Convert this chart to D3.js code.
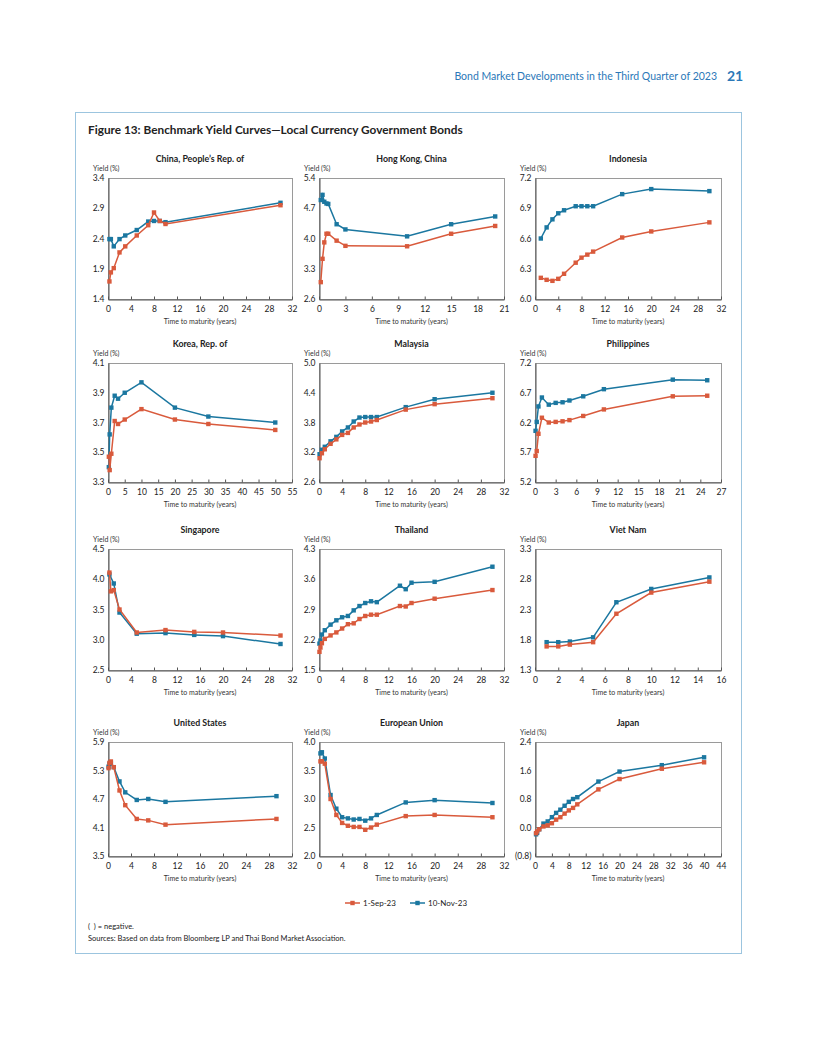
<!DOCTYPE html>
<html>
<head>
<meta charset="utf-8">
<script src="https://cdn.jsdelivr.net/npm/d3@7"></script>
<style>
body { margin: 0; background: #fff; }
svg { display: block; font-family: Lato, "Open Sans", sans-serif; }
</style>
</head>
<body>
<svg id="chart"></svg>
<script>
// yield curve data (tenor in years, yield in %)
let cnTenor = [0.25, 0.5, 1, 2, 3, 5, 7, 8, 9, 10, 30]
let cnSep = [1.69, 1.84, 1.91, 2.17, 2.27, 2.45, 2.62, 2.83, 2.69, 2.64, 2.95]
let cnNov = [2.39, 2.39, 2.27, 2.39, 2.45, 2.54, 2.68, 2.69, 2.69, 2.67, 2.99]

let hkTenor = [0.2, 0.4, 0.6, 0.85, 1.05, 2, 3, 10, 15, 20]
let hkSep = [2.99, 3.53, 3.91, 4.11, 4.11, 3.95, 3.83, 3.82, 4.11, 4.29]
let hkNov = [4.89, 5.01, 4.85, 4.81, 4.80, 4.33, 4.21, 4.05, 4.33, 4.51]

let idTenor = [1, 2, 3, 4, 5, 7, 8, 9, 10, 15, 20, 30]
let idSep = [6.21, 6.19, 6.18, 6.20, 6.25, 6.36, 6.41, 6.44, 6.47, 6.61, 6.67, 6.76]
let idNov = [6.60, 6.71, 6.79, 6.85, 6.88, 6.92, 6.92, 6.92, 6.92, 7.04, 7.09, 7.07]

let krTenor = [0.25, 0.5, 1, 2, 3, 5, 10, 20, 30, 50]
let krSep = [3.47, 3.38, 3.49, 3.71, 3.69, 3.72, 3.79, 3.72, 3.69, 3.65]
let krNov = [3.40, 3.62, 3.80, 3.88, 3.86, 3.90, 3.97, 3.80, 3.74, 3.70]

let myTenor = [0.1, 0.5, 1, 2, 3, 4, 5, 6, 7, 8, 9, 10, 15, 20, 30]
let mySep = [3.08, 3.18, 3.26, 3.37, 3.46, 3.55, 3.59, 3.70, 3.76, 3.80, 3.82, 3.85, 4.06, 4.17, 4.29]
let myNov = [3.16, 3.25, 3.31, 3.42, 3.51, 3.62, 3.70, 3.82, 3.90, 3.91, 3.91, 3.91, 4.11, 4.27, 4.40]

let phTenor = [0.08, 0.25, 0.5, 1, 2, 3, 4, 5, 7, 10, 20, 25]
let phSep = [5.64, 5.72, 6.01, 6.28, 6.20, 6.21, 6.22, 6.24, 6.31, 6.42, 6.64, 6.65]
let phNov = [6.06, 6.21, 6.47, 6.62, 6.50, 6.53, 6.54, 6.57, 6.64, 6.76, 6.92, 6.91]

let sgTenorSep = [0.25, 0.5, 1, 2, 5, 10, 15, 20, 30]
let sgSep = [4.11, 3.80, 3.82, 3.50, 3.12, 3.16, 3.13, 3.12, 3.07]
let sgTenorNov = [0.25, 1, 2, 5, 10, 15, 20, 30]
let sgNov = [4.08, 3.93, 3.45, 3.10, 3.11, 3.08, 3.06, 2.93]

let thTenor = [0.08, 0.25, 0.5, 1, 2, 3, 4, 5, 6, 7, 8, 9, 10, 14, 15, 16, 20, 30]
let thSep = [1.92, 2.02, 2.12, 2.22, 2.30, 2.37, 2.46, 2.56, 2.58, 2.68, 2.75, 2.78, 2.78, 2.98, 2.97, 3.05, 3.15, 3.35]
let thNov = [2.11, 2.18, 2.32, 2.42, 2.55, 2.65, 2.72, 2.75, 2.88, 2.98, 3.05, 3.09, 3.07, 3.45, 3.37, 3.52, 3.54, 3.89]

let vnTenor = [1, 2, 3, 5, 7, 10, 15]
let vnSep = [1.69, 1.69, 1.72, 1.76, 2.23, 2.58, 2.76]
let vnNov = [1.76, 1.76, 1.77, 1.84, 2.42, 2.64, 2.83]

let usTenor = [0.1, 0.25, 0.5, 1, 2, 3, 5, 7, 10, 29.3]
let usSep = [5.35, 5.46, 5.49, 5.37, 4.88, 4.57, 4.28, 4.25, 4.16, 4.28]
let usNov = [5.38, 5.44, 5.46, 5.37, 5.07, 4.84, 4.68, 4.70, 4.64, 4.76]

let euTenor = [0.25, 0.5, 1, 2, 3, 4, 5, 6, 7, 8, 9, 10, 15, 20, 30]
let euSep = [3.66, 3.66, 3.62, 3.00, 2.72, 2.58, 2.53, 2.51, 2.51, 2.46, 2.50, 2.55, 2.70, 2.72, 2.68]
let euNov = [3.80, 3.82, 3.71, 3.07, 2.83, 2.68, 2.66, 2.64, 2.65, 2.62, 2.66, 2.72, 2.94, 2.98, 2.93]

let jpTenor = [0.25, 0.5, 1, 2, 3, 4, 5, 6, 7, 8, 9, 10, 15, 20, 30, 40]
let jpSep = [-0.16, -0.11, -0.05, 0.03, 0.06, 0.12, 0.22, 0.29, 0.39, 0.48, 0.55, 0.65, 1.07, 1.36, 1.65, 1.83]
let jpNov = [-0.19, -0.15, -0.05, 0.11, 0.17, 0.29, 0.41, 0.50, 0.61, 0.72, 0.80, 0.85, 1.29, 1.57, 1.75, 1.97]

// panel titles and axis ticks
let titles = ['China, People\u2019s Rep. of', 'Hong Kong, China', 'Indonesia',
              'Korea, Rep. of', 'Malaysia', 'Philippines',
              'Singapore', 'Thailand', 'Viet Nam',
              'United States', 'European Union', 'Japan']
let yTicks = [[1.4, 1.9, 2.4, 2.9, 3.4], [2.6, 3.3, 4.0, 4.7, 5.4], [6.0, 6.3, 6.6, 6.9, 7.2],
              [3.3, 3.5, 3.7, 3.9, 4.1], [2.6, 3.2, 3.8, 4.4, 5.0], [5.2, 5.7, 6.2, 6.7, 7.2],
              [2.5, 3.0, 3.5, 4.0, 4.5], [1.5, 2.2, 2.9, 3.6, 4.3], [1.3, 1.8, 2.3, 2.8, 3.3],
              [3.5, 4.1, 4.7, 5.3, 5.9], [2.0, 2.5, 3.0, 3.5, 4.0], [-0.8, 0.0, 0.8, 1.6, 2.4]]
let xMax = [32, 21, 32, 55, 32, 27, 32, 32, 16, 32, 32, 44]
let xStep = [4, 3, 4, 5, 4, 3, 4, 4, 2, 4, 4, 4]

let seriesNames = ['1-Sep-23', '10-Nov-23']
let colors = ['#d95a3c', '#1b77a0']

let width = 816
let height = 1056

let svg = d3.select('#chart')
    .attr('width', width)
    .attr('height', height)

// panel grid
let colX = [108, 319, 535]
let colW = [184, 185, 186]
let rowY = [178, 363, 549, 742]
let rowH = [121, 119, 121, 114]

let panels = [
    [cnTenor, cnSep, cnTenor, cnNov], [hkTenor, hkSep, hkTenor, hkNov], [idTenor, idSep, idTenor, idNov],
    [krTenor, krSep, krTenor, krNov], [myTenor, mySep, myTenor, myNov], [phTenor, phSep, phTenor, phNov],
    [sgTenorSep, sgSep, sgTenorNov, sgNov], [thTenor, thSep, thTenor, thNov], [vnTenor, vnSep, vnTenor, vnNov],
    [usTenor, usSep, usTenor, usNov], [euTenor, euSep, euTenor, euNov], [jpTenor, jpSep, jpTenor, jpNov]
]

let fmtY = (v) => v < 0 ? '(' + d3.format('.1f')(-v) + ')' : d3.format('.1f')(v)

// page header
svg.append('text')
    .attr('x', 717).attr('y', 80)
    .attr('text-anchor', 'end')
    .attr('font-size', 10.5)
    .attr('fill', '#2b78b8')
    .text('Bond Market Developments in the Third Quarter of 2023')
svg.append('text')
    .attr('x', 727).attr('y', 81)
    .attr('font-size', 14)
    .attr('font-weight', 'bold')
    .attr('fill', '#2b78b8')
    .text('21')

// figure frame
svg.append('rect')
    .attr('x', 75.5).attr('y', 112.5)
    .attr('width', 666).attr('height', 841)
    .attr('fill', 'none')
    .attr('stroke', '#9cc5df')
    .attr('stroke-width', 1)

svg.append('text')
    .attr('x', 88).attr('y', 134)
    .attr('font-size', 11.8)
    .attr('font-weight', 'bold')
    .attr('fill', '#222')
    .text('Figure 13: Benchmark Yield Curves\u2014Local Currency Government Bonds')

let drawPanel = (i) => {
    let c = i % 3
    let r = Math.floor(i / 3)
    let x0 = colX[c], y0 = rowY[r], w = colW[c], h = rowH[r]
    let ticks = yTicks[i]

    let xScale = d3.scaleLinear()
        .domain([0, xMax[i]])
        .range([0, w])
    let yScale = d3.scaleLinear()
        .domain([ticks[0], ticks[ticks.length - 1]])
        .range([h, 0])

    let g = svg.append('g')
        .attr('transform', 'translate(' + x0 + ',' + y0 + ')')

    g.append('rect')
        .attr('x', 0.5).attr('y', 0.5)
        .attr('width', w).attr('height', h)
        .attr('fill', 'none')
        .attr('stroke', '#9a9a9a')
        .attr('stroke-width', 1)

    // zero line for panels that go negative
    if (ticks[0] < 0) {
        g.append('line')
            .attr('x1', 0).attr('x2', w)
            .attr('y1', yScale(0)).attr('y2', yScale(0))
            .attr('stroke', '#9a9a9a')
            .attr('stroke-width', 1)
    }

    let xAxis = d3.axisBottom(xScale)
        .tickValues(d3.range(0, xMax[i] + 0.001, xStep[i]))
        .tickFormat(d3.format('d'))
        .tickSizeInner(-3)
        .tickSizeOuter(0)
        .tickPadding(6)
    let yAxis = d3.axisLeft(yScale)
        .tickValues(ticks)
        .tickFormat(fmtY)
        .tickSizeInner(0)
        .tickSizeOuter(0)
        .tickPadding(4)

    let gx = g.append('g')
        .attr('transform', 'translate(0,' + (h + 0.5) + ')')
        .call(xAxis)
    let gy = g.append('g')
        .attr('transform', 'translate(0.5,0)')
        .call(yAxis)

    gx.select('.domain').attr('stroke', '#555')
    gy.select('.domain').attr('stroke', '#555')
    gx.selectAll('.tick line').attr('stroke', '#555')
    gx.selectAll('text').attr('font-size', 8.5).attr('fill', '#222').attr('font-family', 'Lato, sans-serif')
    gy.selectAll('text').attr('font-size', 8.5).attr('fill', '#222').attr('font-family', 'Lato, sans-serif')

    g.append('text')
        .attr('x', w / 2).attr('y', -16)
        .attr('text-anchor', 'middle')
        .attr('font-size', 8.8)
        .attr('font-weight', 'bold')
        .attr('fill', '#222')
        .text(titles[i])

    g.append('text')
        .attr('x', -15).attr('y', -7)
        .attr('font-size', 7)
        .attr('fill', '#333')
        .text('Yield (%)')

    g.append('text')
        .attr('x', w / 2).attr('y', h + 25)
        .attr('text-anchor', 'middle')
        .attr('font-size', 7)
        .attr('fill', '#333')
        .text('Time to maturity (years)')

    let line = d3.line()
        .x((d) => xScale(d[0]))
        .y((d) => yScale(d[1]))

    // Nov first, Sep on top
    let order = [1, 0]
    order.forEach((s) => {
        let tenor = panels[i][s * 2]
        let vals = panels[i][s * 2 + 1]
        let pts = tenor.map((t, k) => [t, vals[k]])
        g.append('path')
            .datum(pts)
            .attr('d', line)
            .attr('fill', 'none')
            .attr('stroke', colors[s])
            .attr('stroke-width', 1.5)
        g.selectAll('.pt' + s)
            .data(pts)
            .enter()
            .append('rect')
            .attr('class', 'pt' + s)
            .attr('x', (d) => xScale(d[0]) - 2.2)
            .attr('y', (d) => yScale(d[1]) - 2.2)
            .attr('width', 4.4)
            .attr('height', 4.4)
            .attr('fill', colors[s])
    })
}

for (let i = 0; i < 12; i++) {
    drawPanel(i)
}

// legend
let legend = svg.append('g').attr('transform', 'translate(345,903)')
seriesNames.forEach((name, s) => {
    let lg = legend.append('g').attr('transform', 'translate(' + (s * 65) + ',0)')
    lg.append('line')
        .attr('x1', 0).attr('x2', 15)
        .attr('y1', 0).attr('y2', 0)
        .attr('stroke', colors[s])
        .attr('stroke-width', 1.5)
    lg.append('rect')
        .attr('x', 5.3).attr('y', -2.2)
        .attr('width', 4.4).attr('height', 4.4)
        .attr('fill', colors[s])
    lg.append('text')
        .attr('x', 18).attr('y', 3)
        .attr('font-size', 8)
        .attr('fill', '#222')
        .text(name)
})

// notes
svg.append('text')
    .attr('x', 88).attr('y', 929)
    .attr('font-size', 7.5)
    .attr('fill', '#222')
    .attr('xml:space', 'preserve')
    .style('white-space', 'pre')
    .text('(  ) = negative.')
svg.append('text')
    .attr('x', 88).attr('y', 941)
    .attr('font-size', 7.5)
    .attr('fill', '#222')
    .text('Sources: Based on data from Bloomberg LP and Thai Bond Market Association.')
</script>
</body>
</html>
